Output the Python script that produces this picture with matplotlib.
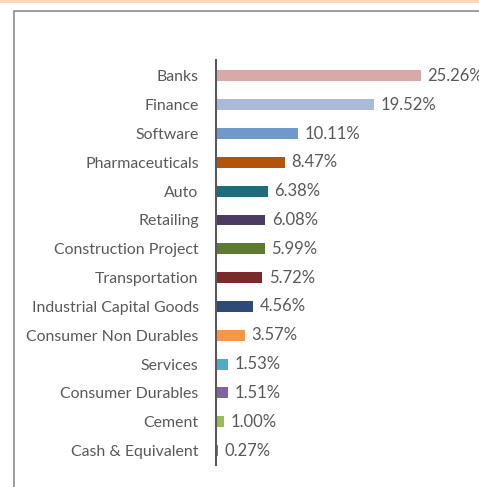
import matplotlib.pyplot as plt
from matplotlib.lines import Line2D

sectors = ['Banks', 'Finance', 'Software', 'Pharmaceuticals', 'Auto', 'Retailing',
           'Construction Project', 'Transportation', 'Industrial Capital Goods',
           'Consumer Non Durables', 'Services', 'Consumer Durables', 'Cement',
           'Cash & Equivalent']
weights = [25.26, 19.52, 10.11, 8.47, 6.38, 6.08, 5.99, 5.72, 4.56, 3.57, 1.53, 1.51, 1.00, 0.27]
colors = ['#D9A9AA', '#A9BADA', '#7098CB', '#B4530A', '#1E6D7D', '#4A3B62', '#5D7B2E',
          '#7A2A2A', '#2C4C77', '#F79646', '#4BACC6', '#8064A2', '#9BBB59', '#4F81BD']

plt.rcParams['font.family'] = ['Lato', 'DejaVu Sans']
txt = '#595959'

fig = plt.figure(figsize=(4.79, 4.87), dpi=100)
ax = fig.add_axes([216/479, 22/487, 263/479, 405/487])

ypos = list(range(len(sectors)))
ax.barh(ypos, weights, height=0.38, color=colors)
for y, w in zip(ypos, weights):
    ax.text(w + 0.8, y, f'{w:.2f}%', va='center', ha='left', fontsize=12, color=txt)

ax.set_ylim(13.5, -0.55)
ax.set_xlim(0, 32.4)
ax.set_yticks(ypos)
ax.set_yticklabels(sectors, fontsize=11.4, color=txt)
ax.tick_params(axis='y', length=0, pad=12.5)
ax.set_xticks([])
for s in ['top', 'right', 'bottom']:
    ax.spines[s].set_visible(False)
ax.spines['left'].set_color('#595959')
ax.spines['left'].set_linewidth(1.5)

# outer frame and top band
fig.add_artist(Line2D([0, 1], [1 - 1/487, 1 - 1/487], color='#FCD5B4', lw=2, transform=fig.transFigure))
fig.add_artist(Line2D([13.5/479, 13.5/479, 1], [0, 1 - 10.5/487, 1 - 10.5/487], color='#8C8C8C', lw=1.2, transform=fig.transFigure))

fig.savefig('out.png', dpi=100)
